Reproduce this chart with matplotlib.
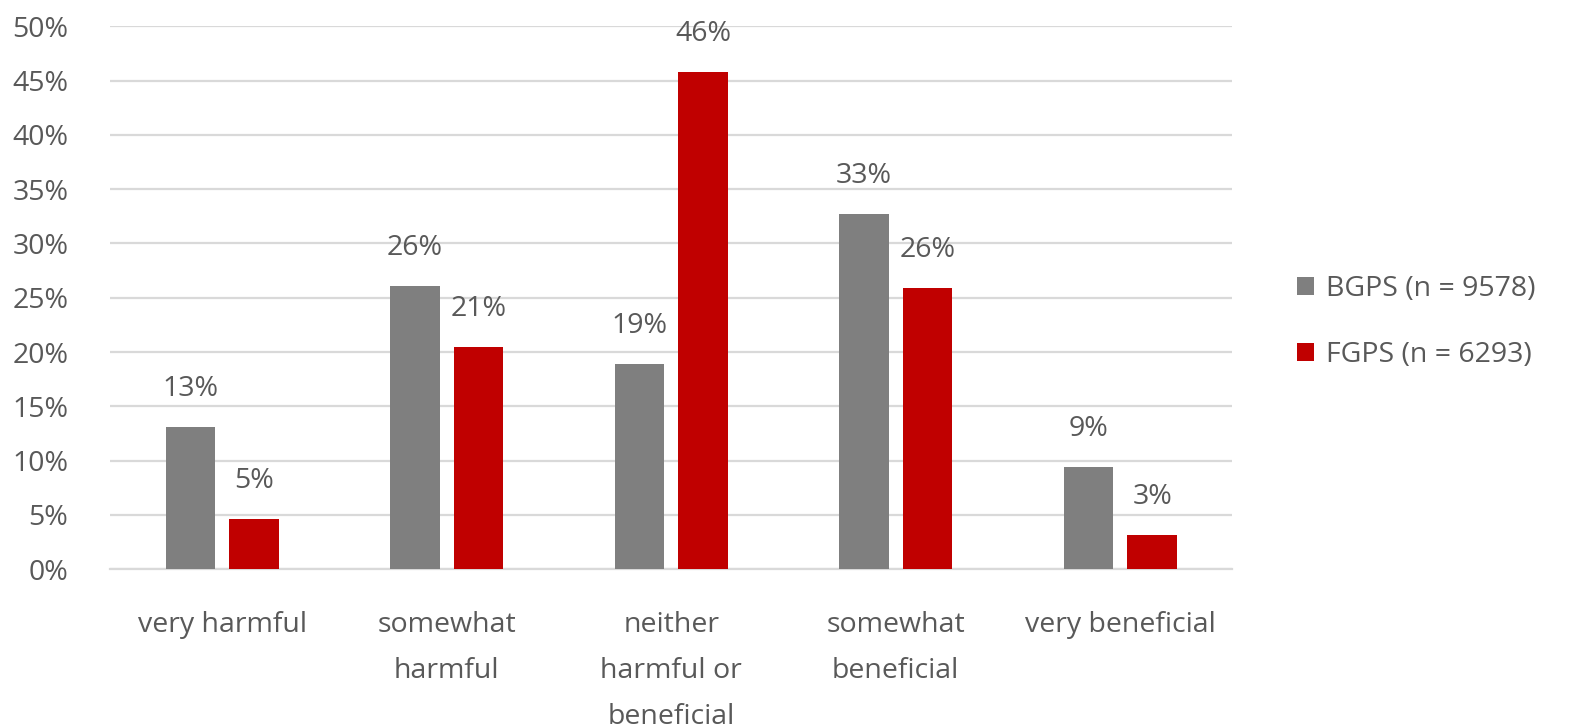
import numpy as np
import matplotlib.pyplot as plt

categories = ['very harmful', 'somewhat\nharmful', 'neither\nharmful or\nbeneficial',
              'somewhat\nbeneficial', 'very beneficial']
bgps = [13.1, 26.1, 18.9, 32.7, 9.4]
fgps = [4.6, 20.5, 45.8, 25.9, 3.2]
series_names = ['BGPS (n = 9578)', 'FGPS (n = 6293)']
colors = ['#7f7f7f', '#c00000']

plt.rcParams['font.family'] = ['Open Sans', 'DejaVu Sans']
text_color = '#595959'
fs = 20.5

fig = plt.figure(figsize=(15.72, 7.28), dpi=100)
ax = fig.add_axes([0.070, 0.218, 0.714, 0.746])

x = np.arange(len(categories))
w = 0.22
off = 0.142
b1 = ax.bar(x - off, bgps, w, color=colors[0], label=series_names[0], zorder=3)
b2 = ax.bar(x + off, fgps, w, color=colors[1], label=series_names[1], zorder=3)

for bars, vals in ((b1, bgps), (b2, fgps)):
    for rect, v in zip(bars, vals):
        # round half up like Excel
        ax.text(rect.get_x() + rect.get_width() / 2, v + 3.5, f'{int(v + 0.5)}%',
                ha='center', va='center', fontsize=fs, color=text_color)

ax.set_xlim(-0.5, len(categories) - 0.5)
ax.set_ylim(0, 50)
ax.set_yticks(np.arange(0, 51, 5))
ax.set_yticklabels([f'{t}%' for t in range(0, 51, 5)])
ax.set_xticks(x)
ax.set_xticklabels(categories, linespacing=1.85)
ax.tick_params(axis='both', length=0, labelsize=fs, labelcolor=text_color)
ax.tick_params(axis='y', pad=30)
ax.tick_params(axis='x', pad=30)
ax.grid(axis='y', color='#d9d9d9', linewidth=1.6, zorder=0)
for s in ['top', 'right', 'left']:
    ax.spines[s].set_visible(False)
ax.spines['bottom'].set_color('#d9d9d9')
ax.spines['bottom'].set_linewidth(1.6)

leg = ax.legend(loc='center left', bbox_to_anchor=(1.035, 0.455), frameon=False,
                fontsize=fs, labelcolor=text_color, handlelength=0.6, handleheight=0.6,
                handletextpad=0.4, labelspacing=1.35)

fig.savefig('out.png', dpi=100)
